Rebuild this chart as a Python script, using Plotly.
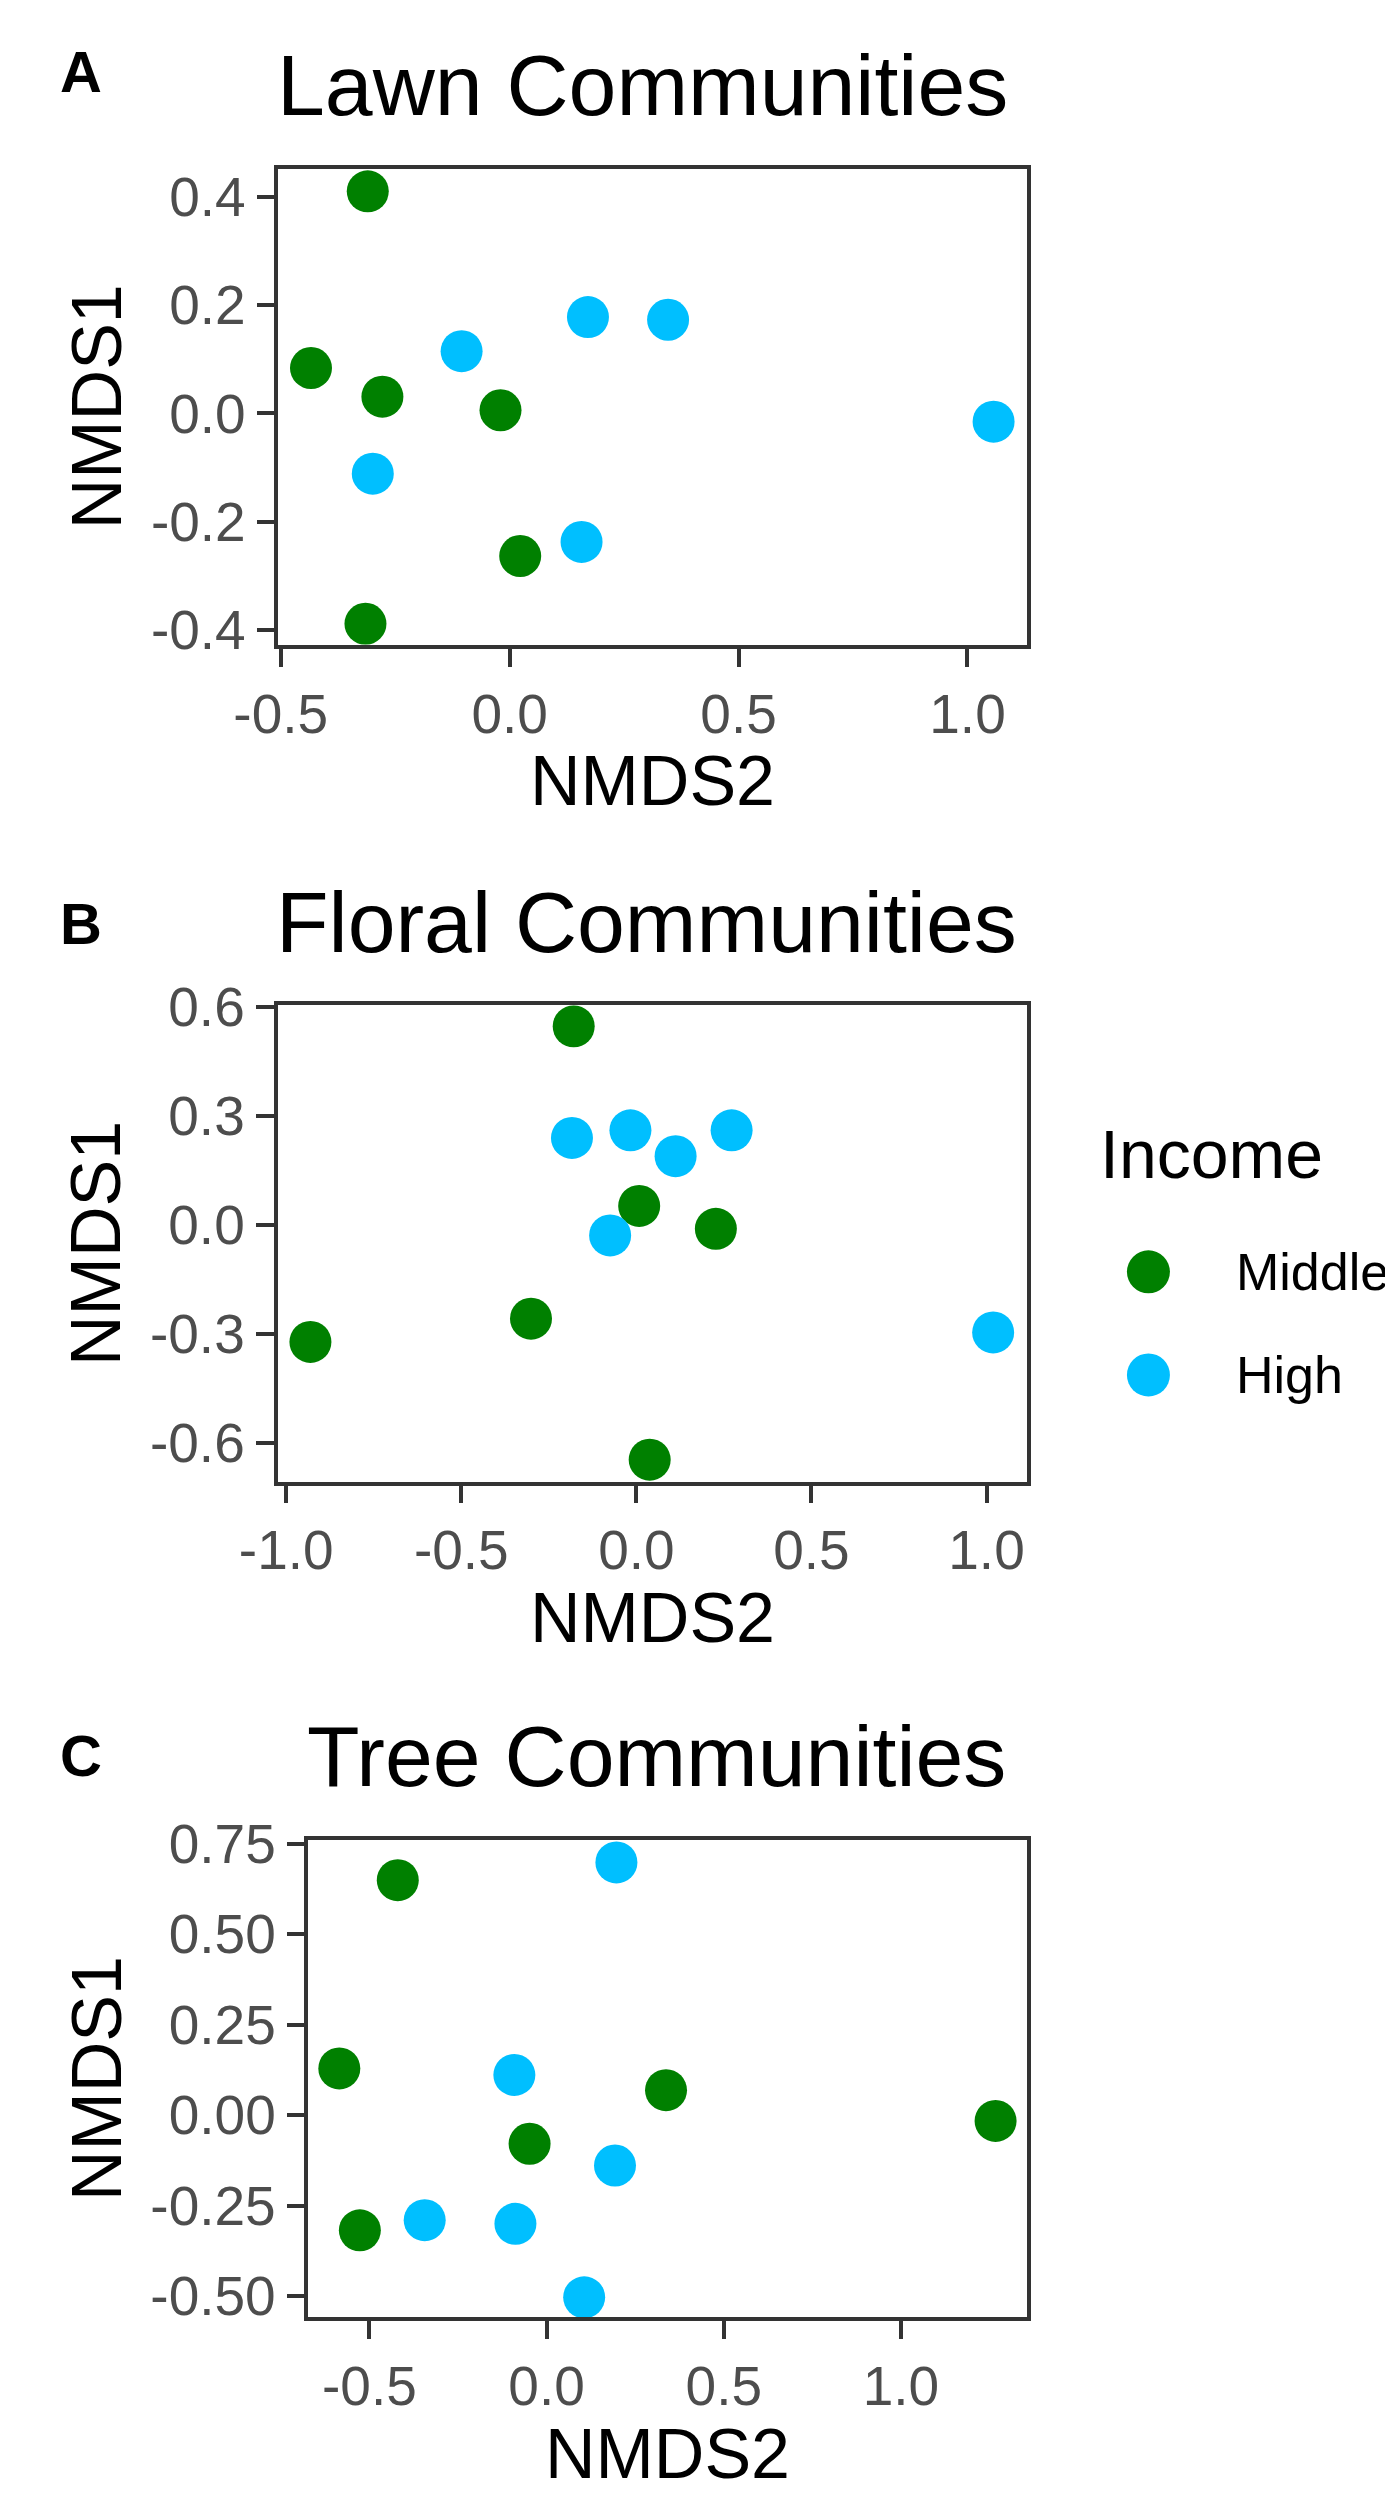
import plotly.graph_objects as go

W, H = 1393, 2500

# ---------------- data ----------------
groups = ["Middle", "High"]
colors = {"Middle": "#008000", "High": "#00BFFF"}

lawn_middle_x = [-0.310, -0.434, -0.278, -0.020, 0.023, -0.315]
lawn_middle_y = [0.410, 0.084, 0.031, 0.006, -0.263, -0.388]
lawn_high_x = [-0.105, 0.171, 0.346, 1.057, -0.299, 0.157]
lawn_high_y = [0.115, 0.178, 0.173, -0.015, -0.111, -0.237]

floral_middle_x = [-0.179, 0.008, 0.227, -0.301, -0.931, 0.038]
floral_middle_y = [0.546, 0.052, -0.011, -0.258, -0.322, -0.646]
floral_high_x = [-0.184, -0.017, 0.112, 0.272, -0.075, 1.019]
floral_high_y = [0.239, 0.260, 0.189, 0.260, -0.029, -0.296]

tree_middle_x = [-0.420, -0.585, 0.337, 1.267, -0.048, -0.527]
tree_middle_y = [0.649, 0.129, 0.069, -0.016, -0.079, -0.318]
tree_high_x = [0.197, -0.091, 0.193, -0.344, -0.088, 0.106]
tree_high_y = [0.698, 0.111, -0.139, -0.290, -0.300, -0.503]

titles = ["Lawn Communities", "Floral Communities", "Tree Communities"]
panel_letters = ["A", "B", "C"]

lawn_xticks = [-0.5, 0.0, 0.5, 1.0]
lawn_xtext = ["-0.5", "0.0", "0.5", "1.0"]
lawn_yticks = [-0.4, -0.2, 0.0, 0.2, 0.4]
lawn_ytext = ["-0.4", "-0.2", "0.0", "0.2", "0.4"]

floral_xticks = [-1.0, -0.5, 0.0, 0.5, 1.0]
floral_xtext = ["-1.0", "-0.5", "0.0", "0.5", "1.0"]
floral_yticks = [-0.6, -0.3, 0.0, 0.3, 0.6]
floral_ytext = ["-0.6", "-0.3", "0.0", "0.3", "0.6"]

tree_xticks = [-0.5, 0.0, 0.5, 1.0]
tree_xtext = ["-0.5", "0.0", "0.5", "1.0"]
tree_yticks = [-0.5, -0.25, 0.0, 0.25, 0.5, 0.75]
tree_ytext = ["-0.50", "-0.25", "0.00", "0.25", "0.50", "0.75"]

# ---------------- layout helpers ----------------
FONT = "Liberation Sans, Arial, sans-serif"
AXC = "#333333"
TICKC = "#4D4D4D"


def px_x(p):
    return p / W


def px_y(p):
    return 1 - p / H


panels = [
    dict(x0=233, x1=1007, y0=134, y1=619, letter_y=35,
         xr=[-0.505, 1.131], yr=[-0.427, 0.452],
         xt=lawn_xticks, xtt=lawn_xtext, yt=lawn_yticks, ytt=lawn_ytext,
         data={"Middle": (lawn_middle_x, lawn_middle_y), "High": (lawn_high_x, lawn_high_y)}),
    dict(x0=232, x1=1007, y0=986, y1=1471, letter_y=903,
         xr=[-1.025, 1.117], yr=[-0.706, 0.604],
         xt=floral_xticks, xtt=floral_xtext, yt=floral_yticks, ytt=floral_ytext,
         data={"Middle": (floral_middle_x, floral_middle_y), "High": (floral_high_x, floral_high_y)}),
    dict(x0=264, x1=1007, y0=1836, y1=2322, letter_y=1750,
         xr=[-0.672, 1.357], yr=[-0.558, 0.760],
         xt=tree_xticks, xtt=tree_xtext, yt=tree_yticks, ytt=tree_ytext,
         data={"Middle": (tree_middle_x, tree_middle_y), "High": (tree_high_x, tree_high_y)}),
]

fig = go.Figure()
layout = dict(
    width=W, height=H,
    margin=dict(l=0, r=0, t=0, b=0),
    paper_bgcolor="white", plot_bgcolor="white",
    showlegend=False,
    font=dict(family=FONT, color="black"),
)
annotations = []

axis_common = dict(
    showgrid=False, zeroline=False,
    showline=True, mirror=True, linecolor=AXC, linewidth=3.5,
    ticks="outside", ticklen=18, tickwidth=4, tickcolor=AXC,
    tickfont=dict(family=FONT, size=55, color=TICKC),
    tickmode="array",
)

for i, p in enumerate(panels):
    n = i + 1
    xa = "xaxis" if n == 1 else f"xaxis{n}"
    ya = "yaxis" if n == 1 else f"yaxis{n}"
    xref = "x" if n == 1 else f"x{n}"
    yref = "y" if n == 1 else f"y{n}"
    layout[xa] = dict(axis_common, domain=[px_x(p["x0"]), px_x(p["x1"])],
                      range=p["xr"], tickvals=p["xt"], ticktext=p["xtt"],
                      anchor=yref)
    layout[ya] = dict(axis_common, domain=[px_y(p["y1"]), px_y(p["y0"])],
                      range=p["yr"], tickvals=p["yt"], ticktext=p["ytt"],
                      anchor=xref)
    for g in groups:
        xs, ys = p["data"][g]
        fig.add_trace(go.Scatter(
            x=xs, y=ys, mode="markers", name=g,
            marker=dict(color=colors[g], size=42, line=dict(width=0)),
            xaxis=xref, yaxis=yref, showlegend=False,
        ))
    # title
    annotations.append(dict(
        text=titles[i], xref="paper", yref="paper",
        x=px_x(p["x0"] - 4), y=px_y(p["y0"] - 85),
        xanchor="left", yanchor="middle", showarrow=False,
        font=dict(family=FONT, size=86, color="black"),
    ))
    # panel letter
    annotations.append(dict(
        text=f"<b>{panel_letters[i]}</b>", xref="paper", yref="paper",
        x=px_x(5), y=px_y(p["letter_y"]),
        xanchor="left", yanchor="middle", showarrow=False,
        font=dict(family=FONT, size=58, color="black"),
    ))
    # x axis title
    annotations.append(dict(
        text="NMDS2", xref="paper", yref="paper",
        x=px_x((p["x0"] + p["x1"]) / 2), y=px_y(p["y1"] + 139),
        xanchor="center", yanchor="middle", showarrow=False,
        font=dict(family=FONT, size=70, color="black"),
    ))
    # y axis title
    annotations.append(dict(
        text="NMDS1", xref="paper", yref="paper", textangle=-90,
        x=px_x(45), y=px_y((p["y0"] + p["y1"]) / 2),
        xanchor="center", yanchor="middle", showarrow=False,
        font=dict(family=FONT, size=70, color="black"),
    ))

# ---------------- legend (as a small categorical panel) ----------------
legend_cat = ["Income"]
layout["xaxis4"] = dict(domain=[px_x(1082), px_x(1182)], range=[-0.5, 0.5],
                        visible=False, type="category", anchor="y4")
layout["yaxis4"] = dict(domain=[px_y(1415), px_y(1205)], range=[1.5, -0.5],
                        visible=False, type="category",
                        categoryorder="array", categoryarray=groups, anchor="x4")
for g in groups:
    fig.add_trace(go.Scatter(
        x=legend_cat, y=[g], mode="markers", name=g,
        marker=dict(color=colors[g], size=43, line=dict(width=0)),
        xaxis="x4", yaxis="y4", showlegend=False, cliponaxis=False,
    ))
    annotations.append(dict(
        text=g, xref="x4", yref="y4", x=legend_cat[0], y=g,
        xanchor="left", yanchor="middle", xshift=86, showarrow=False,
        font=dict(family=FONT, size=52, color="black"),
    ))
annotations.append(dict(
    text="Income", xref="paper", yref="paper",
    x=px_x(1080), y=px_y(1137),
    xanchor="left", yanchor="middle", showarrow=False,
    font=dict(family=FONT, size=68, color="black"),
))

layout["annotations"] = annotations
fig.update_layout(**layout)
fig.write_html("out.html")
